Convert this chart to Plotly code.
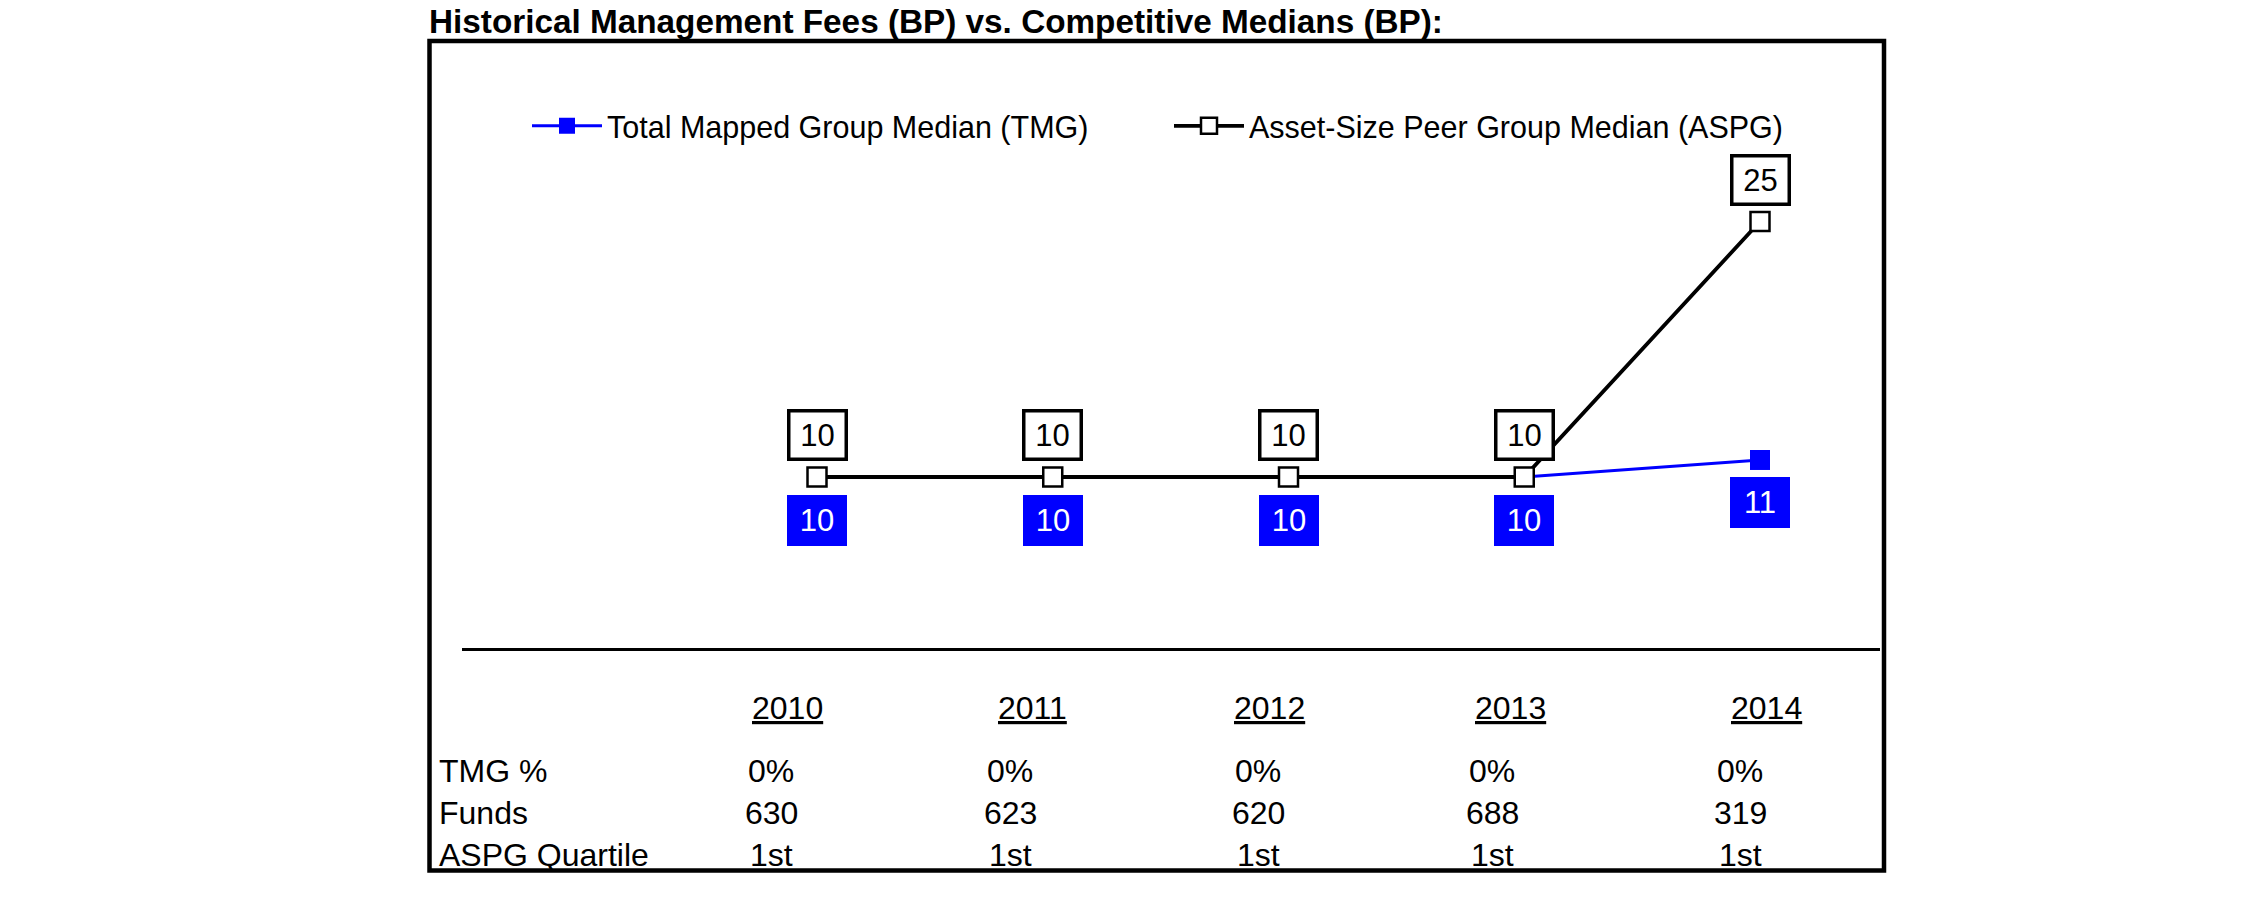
import plotly.graph_objects as go

# ---- data ----
years = ["2010", "2011", "2012", "2013", "2014"]
tmg_values = [10, 10, 10, 10, 11]
aspg_values = [10, 10, 10, 10, 25]
tmg_pct = ["0%", "0%", "0%", "0%", "0%"]
funds = ["630", "623", "620", "688", "319"]
aspg_quartile = ["1st", "1st", "1st", "1st", "1st"]
row_labels = ["TMG %", "Funds", "ASPG Quartile"]
title_text = "Historical Management Fees (BP) vs. Competitive Medians (BP):"
tmg_name = "Total Mapped Group Median (TMG)"
aspg_name = "Asset-Size Peer Group Median (ASPG)"

# ---- layout constants (pixels) ----
W, H = 2251, 898
BLUE = "#0000ff"
FONT = "Liberation Sans, Arial, sans-serif"


def px(x):
    return x / W


def py(y):
    return 1 - y / H


year_col_px = [787, 1032, 1269, 1510, 1766]
value_col_px = [771, 1010, 1258, 1492, 1740]
year_row_py = 708
value_rows_py = [771, 813, 855]
row_label_px = 437

fig = go.Figure()

fig.add_trace(go.Scatter(
    x=years, y=tmg_values, name=tmg_name, mode="lines+markers",
    line=dict(color=BLUE, width=3),
    marker=dict(symbol="square", size=20, color=BLUE, line=dict(color=BLUE, width=0)),
))
fig.add_trace(go.Scatter(
    x=years, y=aspg_values, name=aspg_name, mode="lines+markers",
    line=dict(color="black", width=3.8),
    marker=dict(symbol="square", size=19, color="white", line=dict(color="black", width=2.5)),
))

annotations = []
# data label boxes (x given as category index)
for i, v in enumerate(aspg_values):
    annotations.append(dict(
        x=i, y=v, xref="x", yref="y", text=str(v), showarrow=False,
        yshift=42, font=dict(family=FONT, size=31, color="black"),
        bgcolor="white", bordercolor="black", borderwidth=3.5, borderpad=1,
        width=52, height=43,
    ))
for i, v in enumerate(tmg_values):
    annotations.append(dict(
        x=i, y=v, xref="x", yref="y", text=str(v), showarrow=False,
        yshift=-43, font=dict(family=FONT, size=31, color="white"),
        bgcolor=BLUE, bordercolor=BLUE, borderwidth=3, borderpad=1,
        width=52, height=43,
    ))

# title
annotations.append(dict(
    x=px(427), y=py(21), xref="paper", yref="paper", xanchor="left", yanchor="middle",
    text="<b>" + title_text + "</b>", showarrow=False,
    font=dict(family=FONT, size=33.3, color="black"),
))

# table: year headers
for yr, cx in zip(years, year_col_px):
    annotations.append(dict(
        x=px(cx), y=py(year_row_py), xref="paper", yref="paper",
        xanchor="center", yanchor="middle", text="<u>" + yr + "</u>", showarrow=False,
        font=dict(family=FONT, size=32, color="black"),
    ))
# table: row labels
for lab, ry in zip(row_labels, value_rows_py):
    annotations.append(dict(
        x=px(row_label_px), y=py(ry), xref="paper", yref="paper",
        xanchor="left", yanchor="middle", text=lab, showarrow=False,
        font=dict(family=FONT, size=32, color="black"),
    ))
# table: values
for row, ry in zip([tmg_pct, funds, aspg_quartile], value_rows_py):
    for val, cx in zip(row, value_col_px):
        annotations.append(dict(
            x=px(cx), y=py(ry), xref="paper", yref="paper",
            xanchor="center", yanchor="middle", text=val, showarrow=False,
            font=dict(family=FONT, size=32, color="black"),
        ))

# axes mapping: index 0 -> 817px, index 4 -> 1760px ; value 10 -> 477px, 25 -> 221.5px
x_dom = (462, 1880)
x_step = (1760 - 817) / 4
x_range = [(x_dom[0] - 817) / x_step, (x_dom[1] - 817) / x_step]
y_dom = (60, 647.5)
y_step = (477 - 221.5) / 15
y_range = [10 - (y_dom[1] - 477) / y_step, 10 + (477 - y_dom[0]) / y_step]

fig.update_layout(
    width=W, height=H,
    margin=dict(l=0, r=0, t=0, b=0),
    paper_bgcolor="white", plot_bgcolor="white",
    font=dict(family=FONT, size=30, color="black"),
    xaxis=dict(type="category", domain=[px(x_dom[0]), px(x_dom[1])], range=x_range,
               showgrid=False, zeroline=False, showticklabels=False, ticks="",
               showline=True, linecolor="black", linewidth=3, fixedrange=True),
    yaxis=dict(domain=[py(y_dom[1]), py(y_dom[0])], range=y_range,
               showgrid=False, zeroline=False, showticklabels=False, ticks="",
               showline=False, fixedrange=True),
    showlegend=True,
    legend=dict(orientation="h", x=px(527), xanchor="left", y=py(126), yanchor="middle",
                font=dict(family=FONT, size=30.5, color="black"),
                entrywidth=557, entrywidthmode="pixels", itemwidth=70,
                bgcolor="rgba(0,0,0,0)", borderwidth=0, traceorder="normal"),
    annotations=annotations,
    shapes=[dict(type="rect", xref="paper", yref="paper",
                 x0=px(429.5), x1=px(1884), y0=py(870.5), y1=py(41),
                 line=dict(color="black", width=4.5), fillcolor="rgba(0,0,0,0)")],
)

fig.write_html("out.html", config={"displayModeBar": False, "staticPlot": True},
               post_script="document.body.style.margin='0';document.body.style.overflow='hidden';")
